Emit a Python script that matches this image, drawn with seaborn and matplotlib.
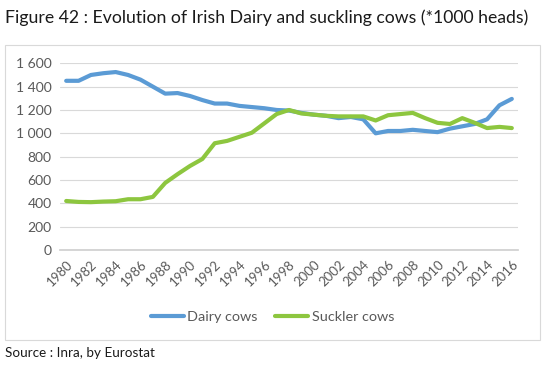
import matplotlib
matplotlib.use("Agg")
import matplotlib.pyplot as plt
import matplotlib.ticker as mticker
from matplotlib.patches import Rectangle
from matplotlib.lines import Line2D
import seaborn as sns
import pandas as pd

years = list(range(1980, 2017))
dairy = [1450, 1450, 1500, 1515, 1525, 1500, 1460, 1400, 1340, 1345,
         1320, 1285, 1255, 1255, 1235, 1225, 1215, 1200, 1195, 1175,
         1160, 1150, 1130, 1140, 1120, 1000, 1020, 1020, 1030, 1020,
         1010, 1040, 1060, 1080, 1120, 1240, 1295]
suckler = [420, 412, 410, 415, 418, 435, 435, 455, 575, 650,
           720, 780, 915, 935, 970, 1005, 1085, 1165, 1200, 1170,
           1160, 1150, 1145, 1145, 1145, 1110, 1155, 1165, 1175, 1130,
           1090, 1080, 1130, 1090, 1045, 1055, 1045]
series_names = ["Dairy cows", "Suckler cows"]
colors = ["#5B9BD5", "#8DC63F"]
title = "Figure 42 : Evolution of Irish Dairy and suckling cows (*1000 heads)"
source = "Source : Inra, by Eurostat"

df = pd.DataFrame({
    "idx": list(range(len(years))) * 2,
    "value": dairy + suckler,
    "series": [series_names[0]] * len(years) + [series_names[1]] * len(years),
})

sns.set_theme(style="white")
plt.rcParams["font.family"] = ["Lato", "DejaVu Sans"]

fig = plt.figure(figsize=(5.45, 3.68), dpi=100)
ax = fig.add_axes([60 / 545, 1 - 250 / 368, 458 / 545, (250 - 63.3) / 368])

sns.lineplot(data=df, x="idx", y="value", hue="series", palette=colors,
             linewidth=3.0, ax=ax, legend=False)

ax.set_xlim(-0.5, len(years) - 0.5)
ax.set_ylim(0, 1600)
ax.set_yticks(range(0, 1601, 200))
ax.yaxis.set_major_formatter(mticker.FuncFormatter(
    lambda v, p: f"{int(v):,}".replace(",", " ")))
ax.set_xticks(range(0, len(years), 2))
ax.set_xticklabels([str(y) for y in years[::2]], rotation=45,
                   ha="right", rotation_mode="anchor")
ax.set_xticks([i - 0.5 for i in range(len(years) + 1)], minor=True)
ax.set_xlabel("")
ax.set_ylabel("")
ax.grid(axis="y", color="#d9d9d9", linewidth=0.8)
ax.set_axisbelow(True)
for s in ["top", "right", "left"]:
    ax.spines[s].set_visible(False)
ax.spines["bottom"].set_color("#d0d0d0")
ax.tick_params(axis="y", length=0, labelsize=10, labelcolor="#595959", pad=6)
ax.tick_params(axis="x", which="major", length=0, labelsize=9.5,
               labelcolor="#595959", pad=6)
ax.tick_params(axis="x", which="minor", length=4, direction="inout",
               color="#d0d0d0", width=0.8)

# chart border
fig.patches.append(Rectangle((5 / 545, 1 - 340 / 368), 535 / 545, (340 - 44.5) / 368,
                             transform=fig.transFigure, fill=False,
                             edgecolor="#d9d9d9", linewidth=0.8))

# legend
handles = [Line2D([0], [0], color=c, linewidth=3.0) for c in colors]
fig.legend(handles, series_names, loc="center", bbox_to_anchor=(0.5, 1 - 317 / 368),
           ncol=2, frameon=False, fontsize=10.4, handlelength=2.3,
           handletextpad=0.25, columnspacing=1.2, labelcolor="#595959")

fig.text(5 / 545, 1 - 18 / 368, title, fontsize=12.7, color="#1a1a1a",
         ha="left", va="center")
fig.text(5 / 545, 1 - 353 / 368, source, fontsize=9.7, color="#1a1a1a",
         ha="left", va="center")

fig.savefig("out.png", dpi=100)
